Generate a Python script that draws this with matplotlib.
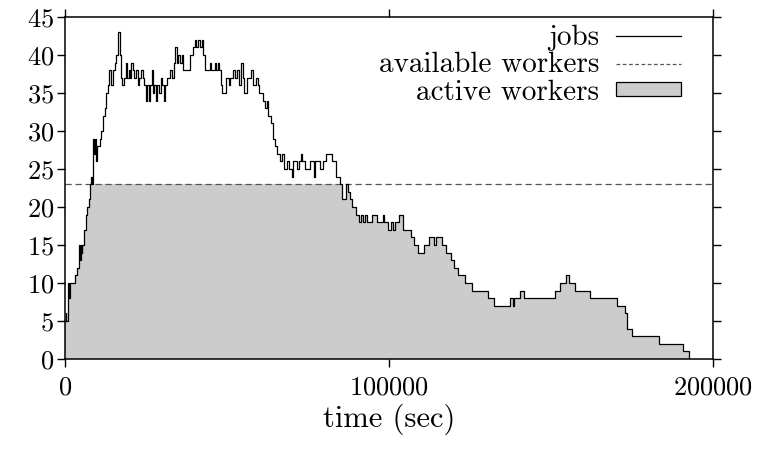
import numpy as np
import matplotlib
matplotlib.use("Agg")
import matplotlib.pyplot as plt
from matplotlib.lines import Line2D
from matplotlib.patches import Patch

plt.rcParams["font.family"] = "cmr10"
plt.rcParams["mathtext.fontset"] = "cm"
plt.rcParams["axes.formatter.use_mathtext"] = True

# job count over time (step changes, seconds)
job_times = [
    0, 300, 450, 800, 1200, 1500, 3000, 3600, 4200, 4500, 4800, 5100, 5400,
    5900, 6400, 6900, 7300, 7600, 8000, 8300, 8600, 9000, 9300, 9600, 10000,
    10800, 11200, 11800, 12300, 12800, 13200, 13700, 14300, 14700, 15300,
    15800, 16300, 16900, 17300, 17700, 18300, 18700, 19200, 19600, 20000,
    20500, 21000, 21400, 22000, 22400, 22800, 23400, 24000, 24500, 25000,
    25400, 25900, 26300, 26700, 27100, 27600, 28000, 28500, 29000, 29500,
    30000, 30500, 31000, 31600, 32500, 33000, 33500, 33800, 34500, 35000,
    35500, 36000, 36500, 38700, 39600, 40000, 40500, 41000, 41700, 42300,
    42600, 43300, 44700, 45000, 46300, 46600, 47200, 47500, 48000, 48600,
    49800, 50600, 51000, 52000, 52400, 53000, 53800, 54300, 54800, 55300,
    56300, 57500, 58000, 58800, 59500, 60000, 61000, 61700, 62300, 62800,
    63600, 64200, 64800, 65400, 66500, 67000, 67600, 68400, 69000, 70000,
    70300, 71500, 72200, 72800, 73200, 74000, 75500, 76800, 77200, 78700,
    79600, 80600, 82300, 83500, 84800, 85500, 86700, 87300, 87900, 88700,
    89700, 90700, 91300, 91900, 92600, 93200, 94800, 96300, 98000, 98400,
    99600, 100500, 101200, 101800, 103000, 104300, 106900, 107800, 108900,
    110800, 112400, 114000, 114600, 116500, 117700, 119000, 120200, 121200,
    123400, 125600, 130600, 132400, 137200, 138300, 138600, 140300, 141800,
    151100, 152900, 154500, 155700, 157300, 161900, 170300, 172800, 173400,
    174900, 183300, 190700, 192500,
]
jobs = [
    5, 6, 5, 10, 8, 10, 11, 12, 15, 13, 15, 14, 15,
    17, 19, 20, 21, 23, 24, 23, 29, 27, 29, 26, 28,
    29, 30, 32, 33, 35, 36, 38, 36, 38, 39,
    40, 43, 40, 37, 36, 37, 39, 37, 38, 37,
    39, 38, 37, 38, 36, 37, 38, 37, 36, 34,
    36, 34, 36, 38, 35, 36, 34, 36, 35, 37,
    36, 34, 36, 37, 38, 37, 39, 41, 39, 40,
    39, 40, 38, 40, 41, 42, 41, 42, 41, 42,
    40, 38, 39, 38, 39, 38, 39, 38, 36, 35,
    37, 36, 37, 38, 37, 38, 36, 39, 37, 35,
    37, 38, 36, 37, 36, 35, 34, 33, 34, 32,
    31, 29, 28, 27, 26, 27, 25, 26, 25, 24,
    26, 25, 26, 27, 26, 25, 26, 24, 26, 25,
    26, 27, 26, 24, 23, 21, 23, 22, 21, 20,
    19, 18, 19, 18, 19, 18, 19, 18, 19, 18,
    17, 18, 17, 18, 19, 17, 16, 15, 14,
    15, 16, 15, 16, 15, 14, 13, 12, 11,
    10, 9, 8, 7, 8, 7, 8, 9, 8,
    9, 10, 11, 10, 9, 8, 7, 6, 4,
    3, 2, 1, 0,
]

# worker pool size
worker_times = [0, 200000]
available_workers = [23, 23]

job_times = np.array(job_times)
jobs = np.array(jobs)
# busy workers: limited by pool size
active_workers = np.minimum(jobs, available_workers[0])

fig = plt.figure(figsize=(7.62, 4.49), dpi=100)
ax = fig.add_axes([65 / 762, 90 / 449, 648 / 762, 342 / 449])

ax.fill_between(job_times, 0, active_workers, step="post",
                facecolor="#cccccc", edgecolor="none", zorder=1)
ax.step(worker_times, available_workers, where="post", color="#555555",
        linewidth=0.9, dashes=(5, 3), zorder=2)
ax.step(job_times, jobs, where="post", color="black", linewidth=0.9, zorder=3)

ax.set_xlim(0, 200000)
ax.set_ylim(0, 45)
ax.set_xticks([0, 100000, 200000])
ax.set_yticks(range(0, 46, 5))
ax.tick_params(direction="out", length=6, width=1.0, labelsize=19,
               top=True, right=True, pad=2)
ax.tick_params(axis="x", pad=6)
for sp in ax.spines.values():
    sp.set_linewidth(1.1)

ax.set_xlabel("time (sec)", fontsize=22, labelpad=3)

handles = [
    Line2D([], [], color="black", linewidth=0.9),
    Line2D([], [], color="#555555", linewidth=0.9, dashes=(3, 2)),
    Patch(facecolor="#cccccc", edgecolor="black", linewidth=0.9),
]
ax.legend(handles, ["jobs", "available workers", "active workers"],
          loc="upper right", bbox_to_anchor=(0.95, 0.977), frameon=False,
          markerfirst=False, fontsize=21, handlelength=2.2, handleheight=0.38,
          labelspacing=0.03, handletextpad=0.6, borderpad=0, borderaxespad=0)

fig.savefig("out.png", dpi=100)
